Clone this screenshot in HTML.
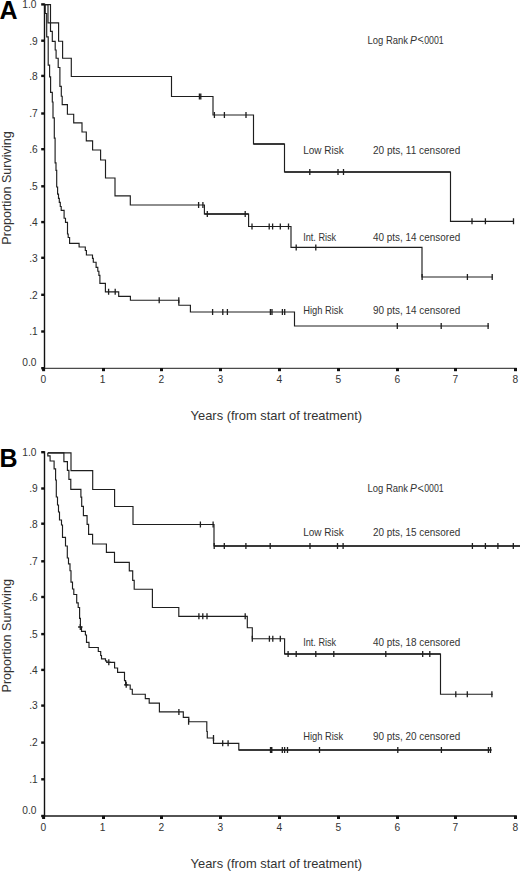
<!DOCTYPE html>
<html><head><meta charset="utf-8"><title>Kaplan-Meier survival by risk group</title>
<style>
html,body{margin:0;padding:0;background:#fff;}
body{width:520px;height:872px;overflow:hidden;}
svg{display:block;}
text{font-family:"Liberation Sans",sans-serif;fill:#333;}
.tl{font-size:10.2px;}
.ax{font-size:12.9px;}
.lb{font-size:10.3px;}
.big{font-size:25px;font-weight:bold;fill:#000;}
</style></head>
<body>
<svg width="520" height="872" viewBox="0 0 520 872">
<line x1="44.5" y1="3.5" x2="44.5" y2="369" stroke="#111" stroke-width="1.4"/>
<line x1="44" y1="368.4" x2="516.8" y2="368.4" stroke="#4a4a4a" stroke-width="1.1"/>
<rect x="41.2" y="367.0" width="3.3" height="2.4" fill="#111"/>
<text x="36.4" y="365.8" class="tl" text-anchor="end">0.0</text>
<rect x="41.2" y="330.3" width="3.3" height="2.4" fill="#111"/>
<text x="37.7" y="335.3" class="tl" text-anchor="end">.1</text>
<rect x="41.2" y="293.6" width="3.3" height="2.4" fill="#111"/>
<text x="37.7" y="298.6" class="tl" text-anchor="end">.2</text>
<rect x="41.2" y="256.6" width="3.3" height="2.4" fill="#111"/>
<text x="37.7" y="261.6" class="tl" text-anchor="end">.3</text>
<rect x="41.2" y="220.9" width="3.3" height="2.4" fill="#111"/>
<text x="37.7" y="225.9" class="tl" text-anchor="end">.4</text>
<rect x="41.2" y="185.1" width="3.3" height="2.4" fill="#111"/>
<text x="37.7" y="190.1" class="tl" text-anchor="end">.5</text>
<rect x="41.2" y="148.0" width="3.3" height="2.4" fill="#111"/>
<text x="37.7" y="153.0" class="tl" text-anchor="end">.6</text>
<rect x="41.2" y="112.3" width="3.3" height="2.4" fill="#111"/>
<text x="37.7" y="117.3" class="tl" text-anchor="end">.7</text>
<rect x="41.2" y="74.7" width="3.3" height="2.4" fill="#111"/>
<text x="37.7" y="79.7" class="tl" text-anchor="end">.8</text>
<rect x="41.2" y="39.5" width="3.3" height="2.4" fill="#111"/>
<text x="37.7" y="44.5" class="tl" text-anchor="end">.9</text>
<rect x="41.2" y="3.2" width="3.3" height="2.4" fill="#111"/>
<text x="36.4" y="8.2" class="tl" text-anchor="end">1.0</text>
<rect x="42.1" y="368" width="3" height="3.2" fill="#111"/>
<text x="43.4" y="383.4" class="tl" text-anchor="middle">0</text>
<rect x="102.0" y="368" width="3" height="3.2" fill="#111"/>
<text x="102.5" y="383.4" class="tl" text-anchor="middle">1</text>
<rect x="160.0" y="368" width="3" height="3.2" fill="#111"/>
<text x="161.3" y="383.4" class="tl" text-anchor="middle">2</text>
<rect x="219.0" y="368" width="3" height="3.2" fill="#111"/>
<text x="220.3" y="383.4" class="tl" text-anchor="middle">3</text>
<rect x="278.0" y="368" width="3" height="3.2" fill="#111"/>
<text x="279.3" y="383.4" class="tl" text-anchor="middle">4</text>
<rect x="337.0" y="368" width="3" height="3.2" fill="#111"/>
<text x="338.3" y="383.4" class="tl" text-anchor="middle">5</text>
<rect x="396.0" y="368" width="3" height="3.2" fill="#111"/>
<text x="397.3" y="383.4" class="tl" text-anchor="middle">6</text>
<rect x="454.0" y="368" width="3" height="3.2" fill="#111"/>
<text x="455.3" y="383.4" class="tl" text-anchor="middle">7</text>
<rect x="514.0" y="368" width="3" height="3.2" fill="#111"/>
<text x="515.3" y="383.4" class="tl" text-anchor="middle">8</text>
<text x="190.6" y="420.2" class="ax">Years (from start of treatment)</text>
<text transform="translate(10.9,244.7) rotate(-90)" x="0" y="0" class="ax" style="font-size:12.6px">Proportion Surviving</text>
<text x="-0.5" y="18.6" class="big">A</text>
<text x="367.6" y="43.8" class="lb" textLength="40.5" lengthAdjust="spacingAndGlyphs">Log Rank</text>
<text x="410" y="43.8" class="lb" font-style="italic">P</text>
<text x="417.6" y="43.2" class="lb" font-size="7.5px">&lt;</text>
<text x="421.8" y="43.8" class="lb" textLength="21.9" lengthAdjust="spacingAndGlyphs">.0001</text>
<text x="303.2" y="154.1" class="lb" textLength="40.6" lengthAdjust="spacingAndGlyphs">Low Risk</text>
<text x="373.0" y="154.1" class="lb" textLength="87.2" lengthAdjust="spacingAndGlyphs">20 pts, 11 censored</text>
<text x="303.2" y="240.9" class="lb" textLength="33.0" lengthAdjust="spacingAndGlyphs">Int. Risk</text>
<text x="373.0" y="240.9" class="lb" textLength="87.2" lengthAdjust="spacingAndGlyphs">40 pts, 14 censored</text>
<text x="303.2" y="313.8" class="lb" textLength="40.0" lengthAdjust="spacingAndGlyphs">High Risk</text>
<text x="373.0" y="313.8" class="lb" textLength="87.2" lengthAdjust="spacingAndGlyphs">90 pts, 14 censored</text>
<line x1="44.5" y1="451.3" x2="44.5" y2="816.8" stroke="#111" stroke-width="1.4"/>
<line x1="44" y1="816.0" x2="516.8" y2="816.0" stroke="#1a1a1a" stroke-width="1.7"/>
<rect x="41.2" y="814.8" width="3.3" height="2.4" fill="#111"/>
<text x="36.4" y="813.6" class="tl" text-anchor="end">0.0</text>
<rect x="41.2" y="778.1" width="3.3" height="2.4" fill="#111"/>
<text x="37.7" y="783.1" class="tl" text-anchor="end">.1</text>
<rect x="41.2" y="741.4" width="3.3" height="2.4" fill="#111"/>
<text x="37.7" y="746.4" class="tl" text-anchor="end">.2</text>
<rect x="41.2" y="704.4" width="3.3" height="2.4" fill="#111"/>
<text x="37.7" y="709.4" class="tl" text-anchor="end">.3</text>
<rect x="41.2" y="668.7" width="3.3" height="2.4" fill="#111"/>
<text x="37.7" y="673.7" class="tl" text-anchor="end">.4</text>
<rect x="41.2" y="632.9" width="3.3" height="2.4" fill="#111"/>
<text x="37.7" y="637.9" class="tl" text-anchor="end">.5</text>
<rect x="41.2" y="595.8" width="3.3" height="2.4" fill="#111"/>
<text x="37.7" y="600.8" class="tl" text-anchor="end">.6</text>
<rect x="41.2" y="560.1" width="3.3" height="2.4" fill="#111"/>
<text x="37.7" y="565.1" class="tl" text-anchor="end">.7</text>
<rect x="41.2" y="522.5" width="3.3" height="2.4" fill="#111"/>
<text x="37.7" y="527.5" class="tl" text-anchor="end">.8</text>
<rect x="41.2" y="487.3" width="3.3" height="2.4" fill="#111"/>
<text x="37.7" y="492.3" class="tl" text-anchor="end">.9</text>
<rect x="41.2" y="451.0" width="3.3" height="2.4" fill="#111"/>
<text x="36.4" y="456.0" class="tl" text-anchor="end">1.0</text>
<rect x="42.1" y="815.8" width="3" height="3.2" fill="#111"/>
<text x="43.4" y="831.2" class="tl" text-anchor="middle">0</text>
<rect x="102.0" y="815.8" width="3" height="3.2" fill="#111"/>
<text x="102.5" y="831.2" class="tl" text-anchor="middle">1</text>
<rect x="160.0" y="815.8" width="3" height="3.2" fill="#111"/>
<text x="161.3" y="831.2" class="tl" text-anchor="middle">2</text>
<rect x="219.0" y="815.8" width="3" height="3.2" fill="#111"/>
<text x="220.3" y="831.2" class="tl" text-anchor="middle">3</text>
<rect x="278.0" y="815.8" width="3" height="3.2" fill="#111"/>
<text x="279.3" y="831.2" class="tl" text-anchor="middle">4</text>
<rect x="337.0" y="815.8" width="3" height="3.2" fill="#111"/>
<text x="338.3" y="831.2" class="tl" text-anchor="middle">5</text>
<rect x="396.0" y="815.8" width="3" height="3.2" fill="#111"/>
<text x="397.3" y="831.2" class="tl" text-anchor="middle">6</text>
<rect x="454.0" y="815.8" width="3" height="3.2" fill="#111"/>
<text x="455.3" y="831.2" class="tl" text-anchor="middle">7</text>
<rect x="514.0" y="815.8" width="3" height="3.2" fill="#111"/>
<text x="515.3" y="831.2" class="tl" text-anchor="middle">8</text>
<text x="190.6" y="868.0" class="ax">Years (from start of treatment)</text>
<text transform="translate(10.9,692.5) rotate(-90)" x="0" y="0" class="ax" style="font-size:12.6px">Proportion Surviving</text>
<text x="-0.5" y="467.3" class="big">B</text>
<text x="367.6" y="492.2" class="lb" textLength="40.5" lengthAdjust="spacingAndGlyphs">Log Rank</text>
<text x="410" y="492.2" class="lb" font-style="italic">P</text>
<text x="417.6" y="491.6" class="lb" font-size="7.5px">&lt;</text>
<text x="421.8" y="492.2" class="lb" textLength="21.9" lengthAdjust="spacingAndGlyphs">.0001</text>
<text x="303.2" y="535.7" class="lb" textLength="40.6" lengthAdjust="spacingAndGlyphs">Low Risk</text>
<text x="373.0" y="535.7" class="lb" textLength="87.2" lengthAdjust="spacingAndGlyphs">20 pts, 15 censored</text>
<text x="303.2" y="645.6" class="lb" textLength="33.0" lengthAdjust="spacingAndGlyphs">Int. Risk</text>
<text x="373.0" y="645.6" class="lb" textLength="87.2" lengthAdjust="spacingAndGlyphs">40 pts, 18 censored</text>
<text x="303.2" y="739.9" class="lb" textLength="40.0" lengthAdjust="spacingAndGlyphs">High Risk</text>
<text x="373.0" y="739.9" class="lb" textLength="87.2" lengthAdjust="spacingAndGlyphs">90 pts, 20 censored</text>
<path d="M44.5,4.6 H48 V22.8 H58.6 V41.2 H62.6 V58.2 H71.3 V76.5 H171.5 V96.5 H213 V115 H253.5 V144 H284.5 V172 H450.5 V221.3 H514" fill="none" stroke="#1e1e1e" stroke-width="1.15"/>
<path d="M44.5,4.6 H50.5 V31.4 H52.3 V41.3 H55.2 V50 H56.1 V58.2 H58.2 V67.5 H59.9 V86.4 H61.3 V96.2 H62.2 V104.6 H67.4 V114.2 H73.7 V122.8 H82 V132 H86.3 V140.8 H92.6 V150 H100.6 V160 H105.5 V178 H115 V195.9 H130.3 V205 H204.4 V214 H248.6 V226.5 H291 V247.4 H422 V277 H492.7" fill="none" stroke="#1e1e1e" stroke-width="1.15"/>
<path d="M44.5,4.6 H45.2 V13.5 H46.7 V36.9 H48.2 V65.1 H49.6 V76.8 H50.6 V92.4 H52.3 V102 H53 V117.9 H54.3 V138.1 H55.1 V162.9 H56 V170.4 H56.7 V187 H57.6 V194.1 H58.5 V198.3 H59.3 V202.4 H60.3 V206.5 H61.2 V210.3 H64.1 V218.2 H65.5 V222.3 H67.5 V234 H68.2 V237.5 H69.6 V243.4 H79.1 V247 H85.3 V250.5 H86.4 V255 H92.5 V258.4 H93.3 V262.2 H96.1 V267.4 H97.8 V271.2 H98.9 V275.4 H99.9 V283.4 H105.4 V291.8 H118.7 V296.3 H130.4 V300.2 H178.8 V305.2 H190.4 V312 H294.5 V326 H489" fill="none" stroke="#1e1e1e" stroke-width="1.15"/>
<path d="M47.8,452.9 H71 V470.6 H92.7 V489.5 H114.6 V506.5 H133 V524.5 H214 V546 H520" fill="none" stroke="#1e1e1e" stroke-width="1.15"/>
<path d="M47.8,452.9 H63.9 V461.6 H67.4 V470.4 H68.9 V479.4 H70.8 V489.3 H80.9 V497.1 H81.7 V506.3 H83.4 V515.6 H87.1 V524.4 H88.6 V534.4 H92.6 V544 H106.4 V552.3 H114.5 V562.3 H129.3 V570.8 H132.7 V580.3 H134.2 V589.2 H152.4 V607.5 H178.8 V616.3 H247.3 V627.7 H252.3 V638.7 H284.6 V654 H440.5 V694.2 H492.7" fill="none" stroke="#1e1e1e" stroke-width="1.15"/>
<path d="M47.8,452.9 V455.8 H50.1 V461 H54.1 V468.8 H55.6 V480 H56.3 V497 H57.5 V505 H58.5 V512 H59.5 V520 H61.5 V525 H62.5 V537.3 H65.5 V546 H67.3 V558 H68.5 V563.8 H70 V570.7 H71 V582.1 H72.5 V589 H73.8 V594.5 H76.7 V602.9 H78.2 V607.5 H79.6 V618.4 H80.4 V627 H81.5 V631.3 H85.4 V635 H86.5 V642.3 H89 V647.5 H98.3 V651.5 H100.7 V655.5 H101.5 V658.8 H105.5 V660.8 H106.8 V662.3 H114.6 V668 H117.6 V672.4 H124.5 V680.6 H125.6 V685 H130.2 V689.2 H132.3 V694.2 H145.3 V698.6 H149.2 V703.1 H159.4 V711.9 H183.3 V717.3 H188.8 V721.7 H206.8 V731.5 H207.3 V738 H213.5 V743.3 H238.8 V750 H491.5" fill="none" stroke="#1e1e1e" stroke-width="1.15"/>
<path d="M253.5,144H284.5 M284.5,172H450.5 M204.4,214H248.6 M214,546H520 M284.6,654H440.5 M238.8,750H491.5" fill="none" stroke="#1e1e1e" stroke-width="1.6"/>
<path d="M199.4,93.5V99.5 M200.8,93.5V99.5 M214.4,112.0V118.0 M224.4,112.0V118.0 M246,112.0V118.0 M309.8,169.0V175.0 M338,169.0V175.0 M343.5,169.0V175.0 M472,218.3V224.3 M485.4,218.3V224.3 M513.5,218.3V224.3" stroke="#1e1e1e" stroke-width="1.3"/>
<path d="M198.6,202.0V208.0 M202.9,202.0V208.0 M207.3,211.0V217.0 M245.2,211.0V217.0 M252,223.5V229.5 M269.2,223.5V229.5 M272.6,223.5V229.5 M280.3,223.5V229.5 M288.5,223.5V229.5 M296.2,244.4V250.4 M315.8,244.4V250.4 M422.1,274.0V280.0 M467.4,274.0V280.0 M492.2,274.0V280.0" stroke="#1e1e1e" stroke-width="1.3"/>
<path d="M108.6,288.8V294.8 M115.2,288.8V294.8 M159.2,297.2V303.2 M178.8,297.2V303.2 M212.6,309.0V315.0 M222.8,309.0V315.0 M227.4,309.0V315.0 M270.4,309.0V315.0 M272,309.0V315.0 M282.4,309.0V315.0 M284.7,309.0V315.0 M397.3,323.0V329.0 M441.2,323.0V329.0 M488.1,323.0V329.0" stroke="#1e1e1e" stroke-width="1.3"/>
<path d="M200.4,521.5V527.5 M213.1,521.5V527.5 M214.2,543.0V549.0 M224.3,543.0V549.0 M245.9,543.0V549.0 M270.2,543.0V549.0 M310,543.0V549.0 M337.5,543.0V549.0 M343.1,543.0V549.0 M472.4,543.0V549.0 M485.4,543.0V549.0 M497.9,543.0V549.0 M513.3,543.0V549.0" stroke="#1e1e1e" stroke-width="1.3"/>
<path d="M198.9,613.3V619.3 M202.8,613.3V619.3 M207,613.3V619.3 M245.2,613.3V619.3 M252.3,635.7V641.7 M269.4,635.7V641.7 M272.8,635.7V641.7 M280.3,635.7V641.7 M288.1,651.0V657.0 M296.2,651.0V657.0 M315.8,651.0V657.0 M333.8,651.0V657.0 M385.8,651.0V657.0 M422.7,651.0V657.0 M429.8,651.0V657.0 M455.8,691.2V697.2 M467.3,691.2V697.2 M491.9,691.2V697.2" stroke="#1e1e1e" stroke-width="1.3"/>
<path d="M80.3,624.0V630.0 M78.1,627.0H82.5 M108.8,659.3V665.3 M106.6,662.3H111.0 M126.2,681.8V687.8 M124.0,684.8H128.4 M178.9,708.9V714.9 M188.6,718.7V724.7 M213.5,735.0V741.0 M222.7,740.3V746.3 M228.1,740.3V746.3 M270.5,747.0V753.0 M271.8,747.0V753.0 M282.3,747.0V753.0 M284.6,747.0V753.0 M287.5,747.0V753.0 M319.5,747.0V753.0 M397.8,747.0V753.0 M441.4,747.0V753.0 M488.4,747.0V753.0 M490.5,747.0V753.0" stroke="#1e1e1e" stroke-width="1.3"/>
</svg>
</body></html>
